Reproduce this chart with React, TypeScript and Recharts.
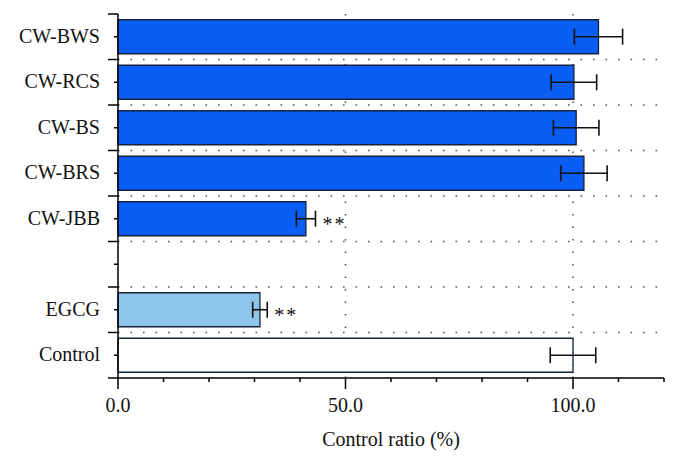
import { BarChart, Bar, XAxis, YAxis, CartesianGrid, ErrorBar, Cell, LabelList, Label } from "recharts";

// rows top to bottom, the blank one is a spacer row in the original figure
const categories = ["CW-BWS", "CW-RCS", "CW-BS", "CW-BRS", "CW-JBB", "", "EGCG", "Control"];
const values = [105.6, 100.2, 100.7, 102.4, 41.3, null, 31.2, 100.0];
const errors = [5.3, 5.0, 5.0, 5.1, 2.1, null, 1.6, 5.0];
const marks = ["", "", "", "", "**", "", "**", ""];
const fills = ["#0A5EF5", "#0A5EF5", "#0A5EF5", "#0A5EF5", "#0A5EF5", "none", "#8DC6EA", "#FFFFFF"];
const xTicks = [0, 10, 20, 30, 40, 50, 60, 70, 80, 90, 100, 110, 120];
const majorTicks = [0, 50, 100];
const gridX = [50, 100];
const X_MAX = 120;

const W = 679;
const H = 462;
const TOP = 14;
const X_AXIS_H = 84;
const PLOT_H = H - TOP - X_AXIS_H;
const FONT = "'Liberation Serif', 'Times New Roman', serif";

const data = categories.map((name, i) => ({
  name,
  value: values[i],
  err: errors[i],
  mark: marks[i],
}));
// the label list skips the empty row, so its index runs over drawn bars only
const drawn = data.filter((d) => d.value != null);

const YTick = (props: any) => {
  const { x, y, payload, index } = props;
  const half = PLOT_H / categories.length / 2;
  return (
    <g>
      <line x1={x - 4} x2={x} y1={y} y2={y} stroke="#000" strokeWidth={1.5} />
      <line x1={x - 10} x2={x} y1={y - half} y2={y - half} stroke="#000" strokeWidth={1.5} />
      {index === categories.length - 1 && (
        <line x1={x - 10} x2={x} y1={y + half} y2={y + half} stroke="#000" strokeWidth={1.5} />
      )}
      {payload.value !== "" && (
        <text x={x - 18} y={y} dy={6} textAnchor="end" fontSize={20} fontFamily={FONT} fill="#111">
          {payload.value}
        </text>
      )}
    </g>
  );
};

const XTick = (props: any) => {
  const { x, y, payload } = props;
  const major = majorTicks.includes(payload.value);
  return (
    <g>
      <line x1={x} x2={x} y1={y} y2={y + (major ? 11 : 4)} stroke="#000" strokeWidth={1.5} />
      {major && (
        <text x={x} y={y + 34} textAnchor="middle" fontSize={20} fontFamily={FONT} fill="#111">
          {payload.value.toFixed(1)}
        </text>
      )}
    </g>
  );
};

const Stars = (props: any) => {
  const { x, y, width, height, value, index } = props;
  if (!value) return null;
  let row: any = drawn[index];
  if (!row || row.mark !== value) row = data[index];
  if (!row || row.value == null) return null;
  const end = x + width * (1 + row.err / row.value);
  return (
    <text x={end + 7} y={y + height / 2 + 12} fontSize={20} fontFamily={FONT} letterSpacing={2} fill="#111">
      {value}
    </text>
  );
};

export default function App() {
  return (
    <div style={{ position: "absolute", left: 0, top: 0, width: W, height: H, background: "#fff" }}>
      <BarChart
        width={W}
        height={H}
        data={data}
        layout="vertical"
        margin={{ top: TOP, right: 15, bottom: 0, left: 0 }}
        barCategoryGap="12.6%"
      >
        <CartesianGrid
          stroke="#555"
          strokeWidth={1.6}
          strokeDasharray="1.6 10.9"
          horizontalCoordinatesGenerator={({ offset }: any) =>
            categories.slice(1).map((_, i) => offset.top + ((i + 1) * offset.height) / categories.length)
          }
          verticalCoordinatesGenerator={({ offset }: any) =>
            gridX.map((v) => offset.left + (v / X_MAX) * offset.width)
          }
        />
        <XAxis
          type="number"
          domain={[0, X_MAX]}
          ticks={xTicks}
          interval={0}
          tick={<XTick />}
          tickLine={false}
          tickSize={0}
          tickMargin={0}
          height={X_AXIS_H}
          axisLine={{ stroke: "#000", strokeWidth: 1.5 }}
        >
          <Label
            value="Control ratio (%)"
            position="insideBottom"
            offset={16}
            style={{ fontSize: 20, fontFamily: FONT, fill: "#111" }}
          />
        </XAxis>
        <XAxis
          xAxisId="top"
          orientation="top"
          type="number"
          domain={[0, X_MAX]}
          tick={false}
          tickLine={false}
          height={0}
          axisLine={{ stroke: "#000", strokeWidth: 1.5 }}
        />
        <YAxis
          type="category"
          dataKey="name"
          width={118}
          interval={0}
          tick={<YTick />}
          tickLine={false}
          tickSize={0}
          tickMargin={0}
          axisLine={{ stroke: "#000", strokeWidth: 1.5 }}
        />
        <YAxis
          yAxisId="right"
          orientation="right"
          type="category"
          dataKey="name"
          width={0}
          tick={false}
          tickLine={false}
          axisLine={{ stroke: "#000", strokeWidth: 1.5 }}
        />
        <Bar dataKey="value" stroke="#15213d" strokeWidth={1.3} isAnimationActive={false}>
          {data.map((d, i) => (
            <Cell key={i} fill={fills[i]} />
          ))}
          <ErrorBar dataKey="err" direction="x" width={8} stroke="#111" strokeWidth={1.6} />
          <LabelList dataKey="mark" content={<Stars />} />
        </Bar>
      </BarChart>
    </div>
  );
}
